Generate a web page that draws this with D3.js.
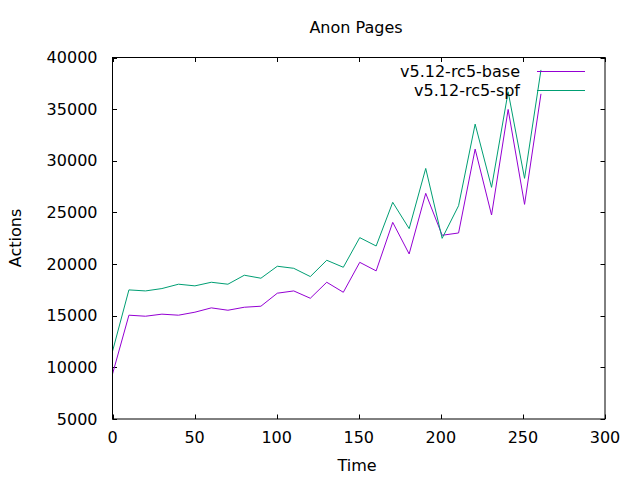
<!DOCTYPE html>
<html>
<head>
<meta charset="utf-8">
<script src="https://cdn.jsdelivr.net/npm/d3@7"></script>
<style>
  body { margin: 0; background: #fff; }
  text { font-family: "DejaVu Sans", sans-serif; font-size: 16px; fill: #000; }
</style>
</head>
<body>
<svg id="chart" width="640" height="480"></svg>
<script>
const title = "Anon Pages";
const xLabel = "Time";
const yLabel = "Actions";
const seriesNames = ["v5.12-rc5-base", "v5.12-rc5-spf"];
const seriesColors = ["#9400d3", "#009e73"];
const times = [0, 10, 20.1, 30.1, 40.2, 50.2, 60.2, 70.3, 80.3, 90.4, 100.4, 110.4, 120.5, 130.5, 140.6, 150.6, 160.6, 170.7, 180.7, 190.8, 200.8, 210.8, 220.9, 230.9, 241, 251, 261];
const base = [9350, 15050, 14950, 15150, 15050, 15340, 15760, 15530, 15820, 15920, 17180, 17400, 16690, 18240, 17270, 20170, 19340, 24040, 20980, 26850, 22790, 23010, 31130, 24750, 34970, 25780, 36480];
const spf = [11550, 17500, 17400, 17630, 18050, 17890, 18240, 18050, 18920, 18630, 19790, 19590, 18790, 20370, 19690, 22560, 21750, 25980, 23430, 29260, 22490, 25650, 33550, 27430, 36680, 28300, 38800];
const xTicks = [0, 50, 100, 150, 200, 250, 300];
const yTicks = [5000, 10000, 15000, 20000, 25000, 30000, 35000, 40000];

const svg = d3.select("#chart");
const mLeft = 112.5, mRight = 605, mTop = 57.5, mBottom = 419;
const x = d3.scaleLinear().domain([0, 300]).range([mLeft, mRight]);
const y = d3.scaleLinear().domain([5000, 40000]).range([mBottom, mTop]);
const tickLen = 4.5;

// ticks (inner, mirrored)
const g = svg.append("g").attr("stroke", "#000").attr("stroke-width", 1);
xTicks.forEach(t => {
  const px = Math.round(x(t)) + 0.5;
  g.append("line").attr("x1", px).attr("x2", px).attr("y1", mBottom).attr("y2", mBottom - tickLen);
  g.append("line").attr("x1", px).attr("x2", px).attr("y1", mTop).attr("y2", mTop + tickLen);
});
yTicks.forEach(t => {
  const py = Math.round(y(t)) + 0.5;
  g.append("line").attr("x1", mLeft).attr("x2", mLeft + tickLen).attr("y1", py).attr("y2", py);
  g.append("line").attr("x1", mRight).attr("x2", mRight - tickLen).attr("y1", py).attr("y2", py);
});

// tick labels
xTicks.forEach(t => {
  svg.append("text").attr("x", x(t)).attr("y", 443).attr("text-anchor", "middle").text(t);
});
yTicks.forEach(t => {
  svg.append("text").attr("x", 97.5).attr("y", y(t) + 5.5).attr("text-anchor", "end").text(t);
});

// series
const line = d3.line().x(d => x(d[0])).y(d => y(d[1]));
[base, spf].forEach((vals, i) => {
  const pts = times.map((t, k) => [t, vals[k]]);
  svg.append("path").datum(pts).attr("d", line)
    .attr("fill", "none").attr("stroke", seriesColors[i]).attr("stroke-width", 1);
});

// border
svg.append("rect").attr("x", mLeft).attr("y", mTop).attr("width", mRight - mLeft).attr("height", mBottom - mTop)
  .attr("fill", "none").attr("stroke", "#000").attr("stroke-width", 1);

// legend
seriesNames.forEach((name, i) => {
  const ly = 71.5 + i * 19;
  svg.append("text").attr("x", 520).attr("y", ly + 5.5).attr("text-anchor", "end").text(name);
  svg.append("line").attr("x1", 537).attr("x2", 585).attr("y1", ly).attr("y2", ly)
    .attr("stroke", seriesColors[i]).attr("stroke-width", 1);
});

// titles
svg.append("text").attr("x", 356).attr("y", 33).attr("text-anchor", "middle").text(title);
svg.append("text").attr("x", 357).attr("y", 471).attr("text-anchor", "middle").text(xLabel);
svg.append("text").attr("transform", "translate(21,238) rotate(-90)").attr("text-anchor", "middle").text(yLabel);
</script>
</body>
</html>
